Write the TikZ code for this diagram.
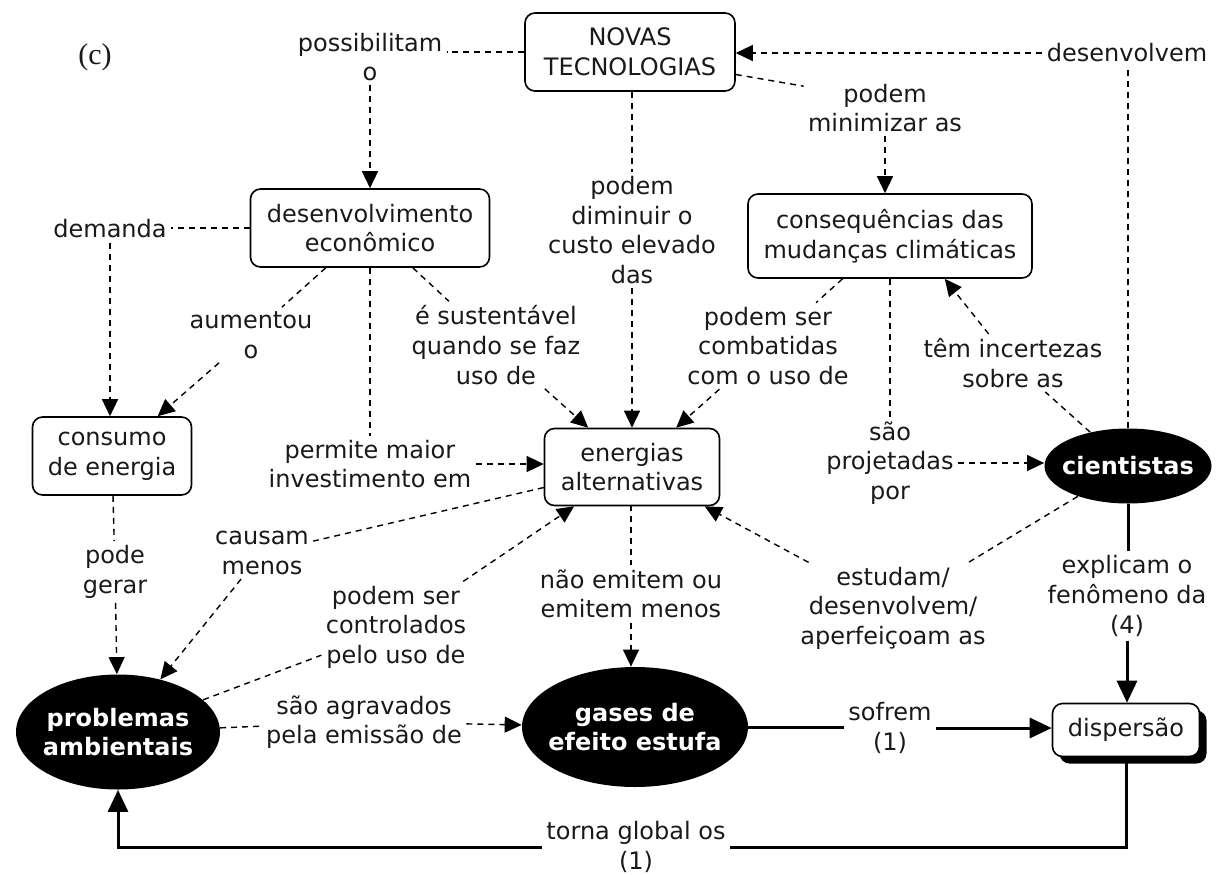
\documentclass[tikz,border=0pt]{standalone}
\usepackage{fontspec}
\setmainfont{DejaVu Sans}
\newfontfamily\serifc{Liberation Serif}
\usetikzlibrary{arrows.meta,shapes.geometric,shadows}

\begin{document}
\begin{tikzpicture}[x=0.5pt,y=-0.5pt,
    every node/.style={font=\fontsize{12pt}{14.8pt}\selectfont, text=black!90},
    concept/.style={draw, rounded corners=5pt, line width=0.8pt, align=center, inner sep=2pt},
    keyconcept/.style={ellipse, fill=black, text=white, align=center, inner xsep=-6pt, inner ysep=0pt,
        font=\fontsize{12pt}{14.8pt}\selectfont\bfseries},
    lbl/.style={align=center, inner sep=2pt},
    dline/.style={dash pattern=on 3pt off 2.5pt, line width=0.7pt},
    darrow/.style={dline, -{Triangle[length=8.5pt,width=8pt]}},
    sline/.style={line width=1.5pt},
    sarrow/.style={sline, -{Triangle[length=11pt,width=10pt]}}]

        \useasboundingbox (0,0) rectangle (1216,874);

        % Concepts
        \node[concept, minimum width=105pt, minimum height=39pt] (nt) at (630,52) {NOVAS\\TECNOLOGIAS};
        \node[concept, minimum width=119.5pt, minimum height=39pt] (de) at (370,228) {desenvolvimento\\econômico};
        \node[concept, minimum width=142pt, minimum height=42pt] (cmc) at (890,236) {consequências das\\mudanças climáticas};
        \node[concept, minimum width=79.5pt, minimum height=39pt] (ce) at (112,456) {consumo\\de energia};
        \node[concept, minimum width=87.5pt, minimum height=38.5pt] (ea) at (632,467) {energias\\alternativas};
        \node[concept, minimum width=73.5pt, minimum height=26.5pt, fill=white,
            drop shadow={shadow xshift=3.5pt, shadow yshift=-3.5pt, fill=black, opacity=1}] (disp) at (1126,730) {dispersão};
        \node[keyconcept, minimum width=83.5pt, minimum height=37.5pt] (ci) at (1128,466) {cientistas};
        \node[keyconcept, minimum width=102pt, minimum height=57.5pt] (pa) at (118,732) {problemas\\ambientais};
        \node[keyconcept, minimum width=113pt, minimum height=60pt] (gee) at (635,727) {gases de\\efeito estufa};

        % Figure tag
        \node[font={\serifc\fontsize{15pt}{18pt}\selectfont}] (tag) at (95,57) {(c)};

        % Linking phrases
        \node[lbl] (lposs) at (370,57) {possibilitam\\o};
        \node[lbl] (ldev) at (1127,53) {desenvolvem};
        \node[lbl] (lmin) at (885,108) {podem\\minimizar as};
        \node[lbl] (ldim) at (632,230) {podem\\diminuir o\\custo elevado\\das};
        \node[lbl] (ldem) at (110,229) {demanda};
        \node[lbl] (laum) at (251,335) {aumentou\\o};
        \node[lbl] (lsus) at (496,345) {é sustentável\\quando se faz\\uso de};
        \node[lbl] (lcom) at (768,346) {podem ser\\combatidas\\com o uso de};
        \node[lbl] (linc) at (1013,363) {têm incertezas\\sobre as};
        \node[lbl] (lper) at (370,464) {permite maior\\investimento em};
        \node[lbl] (lproj) at (890,463) {são\\projetadas\\por};
        \node[lbl] (lcau) at (262,553) {causam\\menos};
        \node[lbl] (lger) at (115,572) {pode\\gerar};
        \node[lbl] (lemi) at (631,594) {não emitem ou\\emitem menos};
        \node[lbl] (lcon) at (396,627) {podem ser\\controlados\\pelo uso de};
        \node[lbl] (lest) at (893,608) {estudam/\\desenvolvem/\\aperfeiçoam as};
        \node[lbl] (lexp) at (1127,596) {explicam o\\fenômeno da\\(4)};
        \node[lbl] (lagr) at (364,722) {são agravados\\pela emissão de};
        \node[lbl] (lsof) at (890,728) {sofrem\\(1)};
        \node[lbl] (ltor) at (636,847) {torna global os\\(1)};

        % Dashed links
        \draw[dline] (nt.west) -- (nt.west -| lposs.east);
        \draw[darrow] (lposs.south) -- (lposs.south |- de.north);
        \draw[darrow] (ldev.west) -- (ldev.west -| nt.east);
        \draw[dline] (ci.north) -- (ci.north |- ldev.south);
        \draw[dline] (nt.-12) -- (lmin.165);
        \draw[darrow] (lmin.south) -- (lmin.south |- cmc.north);
        \draw[dline] (ldim.north |- nt.south) -- (ldim.north);
        \draw[darrow] (ldim.south) -- (ldim.south |- ea.north);
        \draw[dline] (de.west) -- (de.west -| ldem.east);
        \draw[darrow] (ldem.south) -- (ldem.south |- ce.north);
        \draw[dline] (de) -- (laum);
        \draw[darrow] (laum) -- (ce);
        \draw[dline] (de.south) -- (lper.north);
        \draw[darrow] (lper.east) -- (lper.east -| ea.west);
        \draw[dline] (de) -- (lsus);
        \draw[darrow] (lsus) -- (ea);
        \draw[dline] (cmc) -- (lcom);
        \draw[darrow] (lcom) -- (ea);
        \draw[dline] (cmc.south) -- (lproj.north);
        \draw[darrow] (lproj.east) -- (lproj.east -| ci.west);
        \draw[dline] (ci) -- (linc);
        \draw[darrow] (linc.130) -- (cmc.-38);
        \draw[dline] (ci) -- (lest);
        \draw[darrow] (lest) -- (ea);
        \draw[dline] (ea.south) -- (ea.south -| lemi.north) -- (lemi.north);
        \draw[darrow] (lemi.south) -- (lemi.south |- gee.north);
        \draw[dline] (ea) -- (lcau);
        \draw[darrow] (lcau) -- (pa);
        \draw[dline] (ce) -- (lger);
        \draw[darrow] (lger) -- (pa);
        \draw[dline] (pa) -- (lcon);
        \draw[darrow] (lcon) -- (ea);
        \draw[dline] (pa) -- (lagr);
        \draw[darrow] (lagr) -- (gee);

        % Solid links
        \draw[sline] (ci.south) -- (ci.south |- lexp.north);
        \draw[sarrow] (lexp.south) -- (lexp.south |- disp.north);
        \draw[sline] (gee.east) -- (gee.east -| lsof.west);
        \draw[sarrow] (lsof.east) -- (lsof.east -| disp.west);
        \draw[sline] (disp.south) |- (ltor.east);
        \draw[sarrow] (ltor.west) -| (pa.south);

\end{tikzpicture}
\end{document}
